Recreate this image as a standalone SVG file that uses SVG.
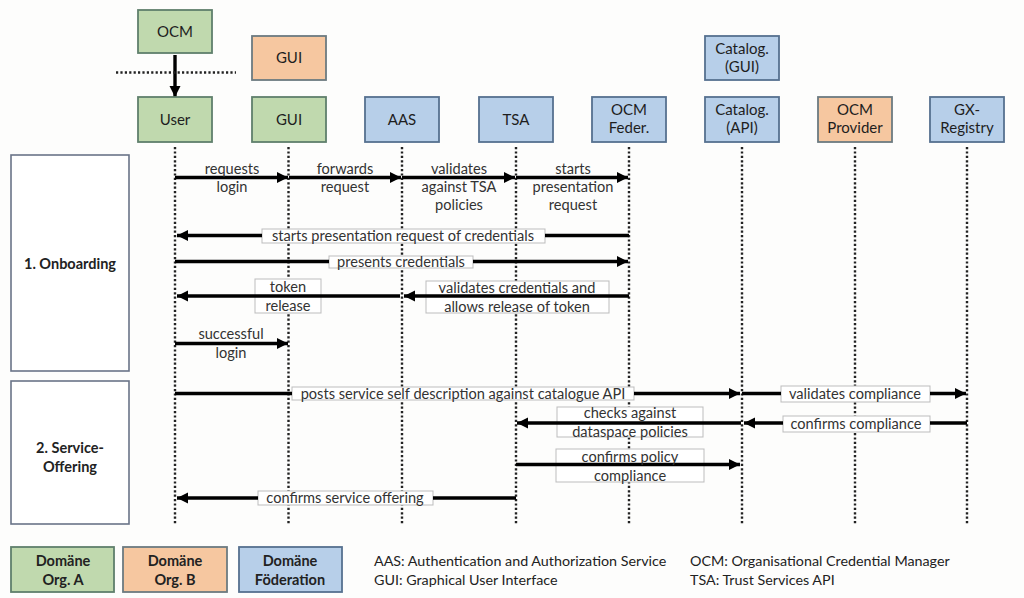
<svg xmlns="http://www.w3.org/2000/svg" width="1024" height="598" viewBox="0 0 1024 598">
<style>
text{font-family:"Lato","Open Sans","Liberation Sans",sans-serif;font-size:14.6px;fill:#333;text-anchor:middle}
.n{stroke-width:1.8}
.g{fill:#c0d9ae;stroke:#5f7f6c}
.o{fill:#f6c7a0;stroke:#6c7a80}
.b{fill:#b7cfe9;stroke:#56708f}
.p{fill:#fff;stroke:#6a7488;stroke-width:1.6}
.t{fill:#1e1e1e;font-size:15px}
.h{font-weight:700;fill:#222;font-size:14.5px}
.l{fill:#fff;stroke:#bdbdbd;stroke-width:1}
.life{stroke:#222;stroke-width:2.4;stroke-dasharray:2.2 2.2;fill:none}
.a{stroke:#000;stroke-width:3.4;fill:none}
.e{marker-end:url(#ah)}
.leg{text-anchor:start;font-size:14.3px;fill:#222}
</style>
<defs><marker id="ah" markerUnits="userSpaceOnUse" markerWidth="13" markerHeight="14" refX="11" refY="7" orient="auto"><path d="M0 1.500 L11 7 L0 12.500 Z" fill="#000"/></marker></defs>
<rect width="1024" height="598" fill="#fdfdfc"/>
<g id="panel-onboarding"><rect class="p" x="11" y="155" width="118" height="216"/><text class="h" x="70" y="269">1. Onboarding</text></g>
<g id="panel-service"><rect class="p" x="11" y="381" width="118" height="143"/><text class="h" x="70" y="453">2. Service-</text><text class="h" x="70" y="472">Offering</text></g>
<g id="lifelines">
<path class="life" d="M175 147V524M288.500 147V524M402 147V524M516 147V524M629 147V524M742 147V524M855 147V524M967 147V524"/>
</g>
<g id="connector-labels-back">
<rect class="l" x="262" y="229" width="283" height="14"/>
<rect class="l" x="329" y="256" width="144" height="12"/>
<rect class="l" x="255" y="279" width="66" height="34"/>
<rect class="l" x="426" y="281" width="183" height="32"/>
<rect class="l" x="292" y="387" width="342" height="13"/>
<rect class="l" x="781" y="386" width="149" height="16"/>
<rect class="l" x="557" y="407" width="146" height="30"/>
<rect class="l" x="783" y="416" width="147" height="16"/>
<rect class="l" x="556" y="449" width="148" height="33"/>
<rect class="l" x="258" y="491" width="175" height="14"/>
</g>
<g id="connectors">
<path class="a e" d="M175 55V97"/>
<path d="M116 72.500H236" stroke="#222" stroke-width="2.400" stroke-dasharray="2.200 2.200" fill="none"/>
<path class="a e" d="M175 177.500H288"/>
<path class="a e" d="M289 177.500H401"/>
<path class="a e" d="M402 177.500H515"/>
<path class="a e" d="M516 177.500H628"/>
<path class="a" d="M629 235.500H545"/><path class="a e" d="M262 235.500H177"/>
<path class="a" d="M175 261.500H329"/><path class="a e" d="M473 261.500H628"/>
<path class="a e" d="M400 296H177"/>
<path class="a e" d="M629 296H404"/>
<path class="a e" d="M175 343.500H288"/>
<path class="a" d="M175 393.500H292"/><path class="a e" d="M634 393.500H740"/>
<path class="a" d="M742 393.500H781"/><path class="a e" d="M930 393.500H966"/>
<path class="a e" d="M741 423H517"/>
<path class="a" d="M967 423H930"/><path class="a e" d="M783 423H744"/>
<path class="a e" d="M516 464.500H740"/>
<path class="a" d="M516 498H433"/><path class="a e" d="M258 498H177"/>
</g>
<g id="connector-labels">
<text x="232" y="174">requests</text><text x="232" y="192">login</text>
<text x="345" y="174">forwards</text><text x="345" y="192">request</text>
<text x="459" y="174">validates</text><text x="459" y="192">against TSA</text><text x="459" y="210">policies</text>
<text x="573" y="174">starts</text><text x="573" y="192">presentation</text><text x="573" y="210">request</text>
<text x="403" y="241">starts presentation request of credentials</text>
<text x="401" y="267">presents credentials</text>
<text x="288" y="292">token</text><text x="288" y="311">release</text>
<text x="517" y="293">validates credentials and</text><text x="517" y="312">allows release of token</text>
<text x="231" y="339">successful</text><text x="231" y="358">login</text>
<text x="463" y="399">posts service self description against catalogue API</text>
<text x="855" y="399">validates compliance</text>
<text x="630" y="418">checks against</text><text x="630" y="437">dataspace policies</text>
<text x="856" y="429">confirms compliance</text>
<text x="630" y="462">confirms policy</text><text x="630" y="481">compliance</text>
<text x="345" y="503">confirms service offering</text>
</g>
<g id="node-ocm"><rect class="n g" x="138" y="10" width="74" height="43"/><text class="t" x="175" y="37">OCM</text></g>
<g id="node-gui-b"><rect class="n o" x="252" y="36" width="74" height="44"/><text class="t" x="289" y="63">GUI</text></g>
<g id="node-catalog-gui"><rect class="n b" x="705" y="36" width="74" height="44"/><text class="t" x="742" y="54">Catalog.</text><text class="t" x="742" y="72">(GUI)</text></g>
<g id="node-user"><rect class="n g" x="138" y="97" width="74" height="45"/><text class="t" x="175" y="125">User</text></g>
<g id="node-gui"><rect class="n g" x="252" y="97" width="74" height="45"/><text class="t" x="289" y="125">GUI</text></g>
<g id="node-aas"><rect class="n b" x="365" y="97" width="74" height="45"/><text class="t" x="402" y="125">AAS</text></g>
<g id="node-tsa"><rect class="n b" x="479" y="97" width="74" height="45"/><text class="t" x="516" y="125">TSA</text></g>
<g id="node-ocm-feder"><rect class="n b" x="592" y="97" width="74" height="45"/><text class="t" x="629" y="115">OCM</text><text class="t" x="629" y="133">Feder.</text></g>
<g id="node-catalog-api"><rect class="n b" x="705" y="97" width="74" height="45"/><text class="t" x="742" y="115">Catalog.</text><text class="t" x="742" y="133">(API)</text></g>
<g id="node-ocm-provider"><rect class="n o" x="818" y="97" width="74" height="45"/><text class="t" x="855" y="115">OCM</text><text class="t" x="855" y="133">Provider</text></g>
<g id="node-gx-registry"><rect class="n b" x="930" y="97" width="74" height="45"/><text class="t" x="967" y="115">GX-</text><text class="t" x="967" y="133">Registry</text></g>
<g id="legend-a"><rect class="n g" x="11" y="547" width="103" height="45"/><text class="h" x="63" y="566">Domäne</text><text class="h" x="63" y="585">Org. A</text></g>
<g id="legend-b"><rect class="n o" x="123" y="547" width="104" height="45"/><text class="h" x="175" y="566">Domäne</text><text class="h" x="175" y="585">Org. B</text></g>
<g id="legend-c"><rect class="n b" x="239" y="547" width="103" height="45"/><text class="h" x="290" y="566">Domäne</text><text class="h" x="290" y="585">Föderation</text></g>
<g id="glossary">
<text class="leg" x="374" y="566">AAS: Authentication and Authorization Service</text>
<text class="leg" x="374" y="585">GUI: Graphical User Interface</text>
<text class="leg" x="690" y="566">OCM: Organisational Credential Manager</text>
<text class="leg" x="690" y="585">TSA: Trust Services API</text>
</g>
</svg>
